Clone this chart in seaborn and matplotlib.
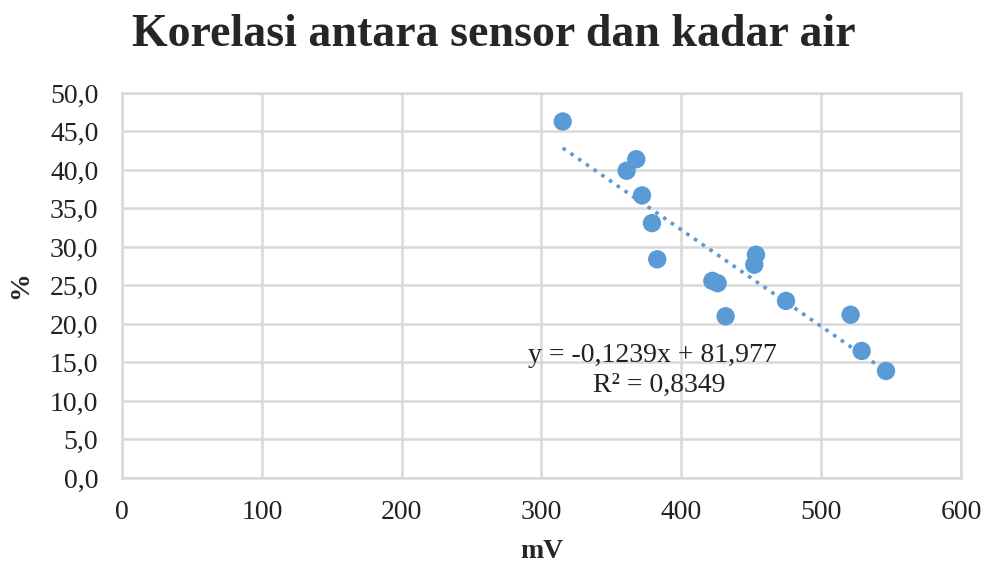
import numpy as np
import pandas as pd
import seaborn as sns
import matplotlib.pyplot as plt
from matplotlib.ticker import FuncFormatter, MultipleLocator

# sensor reading (mV) vs water content (%)
sensor_mv = [315.2, 367.8, 360.9, 371.9, 379.0, 382.8, 422.2, 426.0,
             431.7, 453.4, 452.2, 474.9, 521.1, 529.0, 546.4]
kadar_air = [46.3, 41.4, 39.9, 36.7, 33.1, 28.4, 25.6, 25.3,
             21.0, 29.0, 27.7, 23.0, 21.2, 16.5, 13.9]

df = pd.DataFrame({'mV': sensor_mv, 'pct': kadar_air})

sns.set_style('white')
plt.rcParams['font.family'] = ['Liberation Serif', 'DejaVu Serif']

blue = '#5B9BD5'
grid_c = '#D9D9D9'

fig = plt.figure(figsize=(9.87, 5.66), dpi=100)
ax = fig.add_axes([0.1236, 0.1555, 0.8500, 0.6802])

sns.regplot(data=df, x='mV', y='pct', ax=ax, scatter=False, ci=None,
            color=blue, line_kws={'ls': (0, (1, 1.6)), 'lw': 2.6})
sns.scatterplot(data=df, x='mV', y='pct', ax=ax, color=blue, s=175,
                edgecolor='none', zorder=3)

ax.set_xlim(0, 600)
ax.set_ylim(0, 50)
ax.xaxis.set_major_locator(MultipleLocator(100))
ax.yaxis.set_major_locator(MultipleLocator(5))
ax.yaxis.set_major_formatter(FuncFormatter(lambda v, p: f'{v:.1f}'.replace('.', ',')))
ax.grid(True, color=grid_c, lw=1.8)
ax.set_axisbelow(True)
for s in ax.spines.values():
    s.set_color(grid_c)
    s.set_linewidth(1.8)
ax.tick_params(axis='both', length=0, labelsize=20, colors='#222222')
ax.tick_params(axis='y', pad=17)
ax.tick_params(axis='x', pad=16)

ax.set_xlabel('mV', fontsize=20, fontweight='bold', labelpad=10)
ax.set_ylabel('%', fontsize=20, fontweight='bold', labelpad=12)

ax.text(0.632, 0.319, 'y = -0,1239x + 81,977', transform=ax.transAxes,
        ha='center', va='center', fontsize=20, color='#222222')
ax.text(0.640, 0.240, 'R² = 0,8349', transform=ax.transAxes,
        ha='center', va='center', fontsize=20, color='#222222')

fig.suptitle('Korelasi antara sensor dan kadar air', fontsize=33,
             fontweight='bold', y=0.975)

plt.savefig('out.png', dpi=100)
